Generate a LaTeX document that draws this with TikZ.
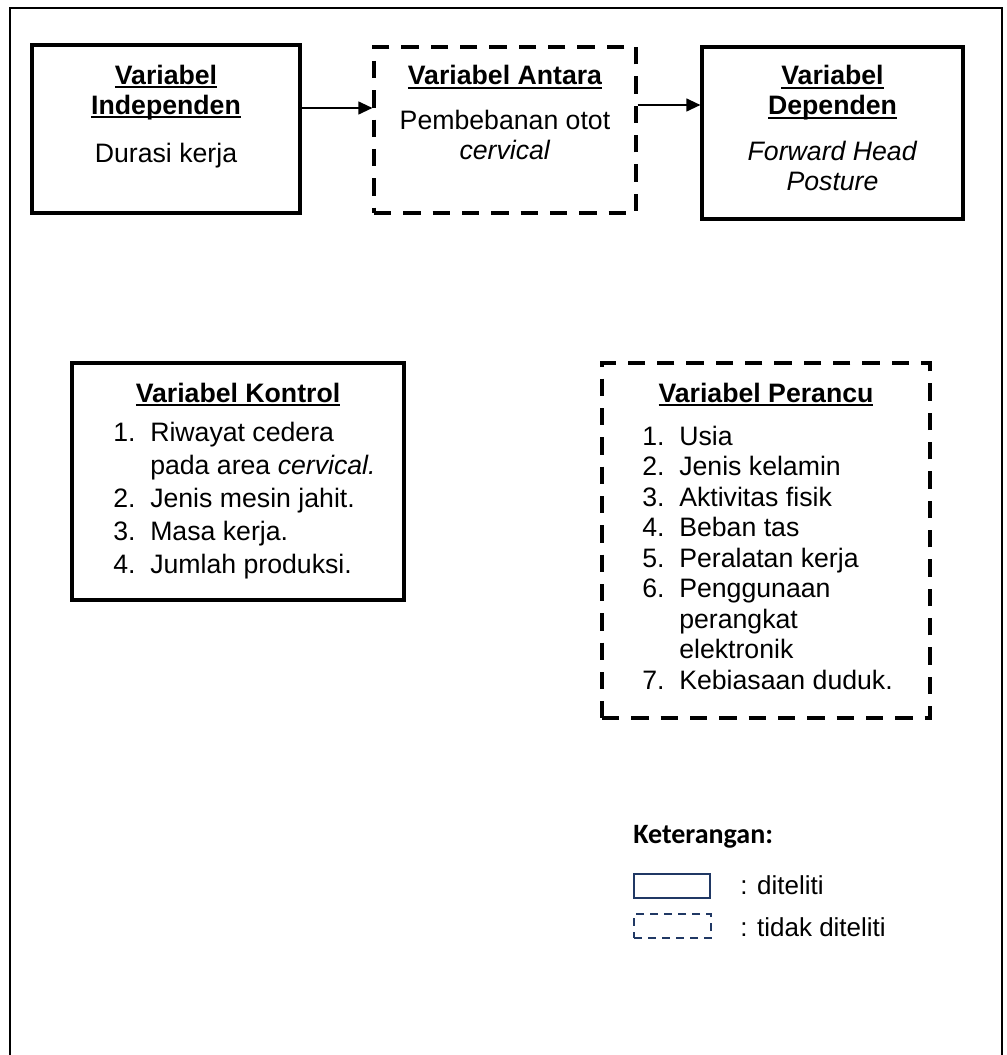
\documentclass[tikz,border=0pt]{standalone}
\usepackage{fontspec}
\setmainfont{Liberation Sans}
\newfontfamily\ketfont{Carlito}
\usetikzlibrary{arrows.meta,fit,positioning}

\newcommand{\garis}[1]{\setbox0=\hbox{#1}\rlap{\rule[-3pt]{\wd0}{1.5pt}}\box0}

\begin{document}
\begin{tikzpicture}[x=0.75pt,y=-0.75pt]
			\definecolor{legendBlue}{RGB}{32, 56, 100}
			\tikzstyle{solidbox}=[draw, line width=2.3pt, inner sep=0pt]
			\tikzstyle{dashbox}=[draw, line width=2.3pt, inner sep=0pt, dash pattern=on 13pt off 9pt]
			\tikzstyle{txt}=[inner sep=0pt, font=\fontsize{20}{22.5}\selectfont]
			\tikzstyle{panah}=[-{Triangle[length=10.5pt,width=9.5pt]}, line width=1.5pt]

			\useasboundingbox (0,0) rectangle (1006,1055);
			\draw[line width=1.6pt] (10,1055) -- (10,8) -- (1002,8) -- (1002,1055);

			\node [solidbox, fit={(32,45) (300,213)}] (indep) {};
			\node [dashbox, fit={(374,47) (636,213)}] (antara) {};
			\node [solidbox, fit={(702,47) (963,219)}] (dependen) {};
			\node [solidbox, fit={(72,363) (404,600)}] (kontrol) {};
			\node [dashbox, fit={(602,363) (930,718)}] (perancu) {};

			\node [txt, anchor=base] (indepT) at (166,84.5) {\begin{tabular}[t]{@{}c@{}}\textbf{\garis{Variabel}}\\ \textbf{\garis{Independen}}\end{tabular}};
			\node [txt, anchor=base] (indepB) at (166,163) {Durasi kerja};

			\node [txt, anchor=base] (antaraT) at (505,85) {\textbf{\garis{Variabel Antara}}};
			\node [txt, anchor=base] (antaraB) at (505,130) {\begin{tabular}[t]{@{}c@{}}Pembebanan otot\\ \textit{cervical}\end{tabular}};

			\node [txt, anchor=base] (dependenT) at (832.5,85) {\begin{tabular}[t]{@{}c@{}}\textbf{\garis{Variabel}}\\ \textbf{\garis{Dependen}}\end{tabular}};
			\node [txt, anchor=base] (dependenB) at (832.5,161) {\begin{tabular}[t]{@{}c@{}}\textit{Forward Head}\\ \textit{Posture}\end{tabular}};

			\node [txt, anchor=base] (kontrolT) at (238,402) {\textbf{\garis{Variabel Kontrol}}};
			\node [txt, anchor=base west, font=\fontsize{20}{24.75}\selectfont] (kontrolL) at (113,441) {\begin{tabular}[t]{@{}p{27.75pt}@{}l@{}}
				1. & Riwayat cedera\\
				   & pada area \textit{cervical.}\\
				2. & Jenis mesin jahit.\\
				3. & Masa kerja.\\
				4. & Jumlah produksi.
			\end{tabular}};

			\node [txt, anchor=base] (perancuT) at (766,402) {\textbf{\garis{Variabel Perancu}}};
			\node [txt, anchor=base west, font=\fontsize{20}{22.875}\selectfont] (perancuL) at (642,445) {\begin{tabular}[t]{@{}p{27.75pt}@{}l@{}}
				1. & Usia\\
				2. & Jenis kelamin\\
				3. & Aktivitas fisik\\
				4. & Beban tas\\
				5. & Peralatan kerja\\
				6. & Penggunaan\\
				   & perangkat\\
				   & elektronik\\
				7. & Kebiasaan duduk.
			\end{tabular}};

			% keterangan
			\node [inner sep=0pt, anchor=base west, font=\ketfont\bfseries\fontsize{21}{25}\selectfont] (ket) at (633,843) {Keterangan:};
			\node [draw=legendBlue, line width=1.5pt, inner sep=0pt, fit={(634,874) (710,898)}] (lgSolid) {};
			\node [draw=legendBlue, line width=1.5pt, inner sep=0pt, dash pattern=on 6pt off 4.5pt, fit={(634,914) (711,938)}] (lgDash) {};
			\node [txt, anchor=base west, font=\fontsize{19.5}{22}\selectfont] (lgSolidT) at (740,894) {: diteliti};
			\node [txt, anchor=base west, font=\fontsize{19.5}{22}\selectfont] (lgDashT) at (740,936) {: tidak diteliti};

			\draw[panah] ([yshift=15.75pt]indep.east) -- ([yshift=16.5pt]antara.west);
			\draw[panah] ([yshift=18.75pt]antara.east) -- ([yshift=21pt]dependen.west);
		\end{tikzpicture}
\end{document}
